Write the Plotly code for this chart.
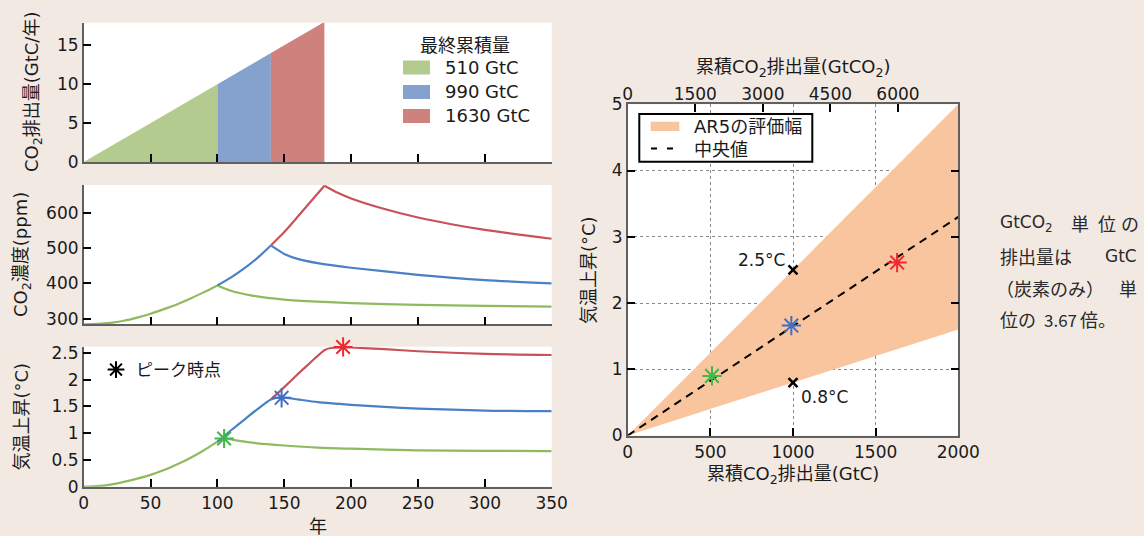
import plotly.graph_objects as go

W, H = 1144, 536
FONT = "DejaVu Sans, Noto Sans CJK JP"
JFONT = "Noto Sans CJK JP"

# ---------------- data ----------------
scen_names = ["510 GtC", "990 GtC", "1630 GtC"]
emis_start_year = [0, 100, 140]
emis_end_year = [100, 140, 180]
emis_rate_start = [0, 10, 14]
emis_rate_end = [10, 14, 18]

co2_green_years = [0, 10, 20, 30, 40, 50, 60, 70, 80, 90, 100, 110, 125, 150, 175, 200, 250, 300, 350]
co2_green = [284, 285, 288, 294, 303, 314, 327, 341, 357, 375, 394, 379, 366, 354, 348, 344, 339, 336, 334]
co2_blue_years = [100, 110, 120, 130, 140, 150, 160, 175, 200, 250, 300, 350]
co2_blue = [394, 416, 442, 472, 507, 483, 469, 457, 444, 424, 409, 400]
co2_red_years = [140, 150, 160, 170, 180, 190, 200, 225, 250, 275, 300, 350]
co2_red = [507, 545, 588, 632, 676, 656, 640, 610, 586, 567, 551, 526]

temp_green_years = [0, 10, 20, 30, 40, 50, 60, 70, 80, 90, 100, 105, 115, 130, 150, 175, 200, 250, 300, 350]
temp_green = [0, 0.01, 0.04, 0.09, 0.15, 0.22, 0.31, 0.42, 0.54, 0.68, 0.84, 0.9, 0.86, 0.81, 0.77, 0.73, 0.71, 0.68, 0.67, 0.665]
temp_blue_years = [100, 110, 120, 130, 140, 148, 160, 175, 200, 225, 250, 300, 350]
temp_blue = [0.84, 1.05, 1.25, 1.45, 1.63, 1.67, 1.63, 1.58, 1.53, 1.49, 1.46, 1.42, 1.41]
temp_red_years = [140, 150, 160, 170, 180, 185, 194, 200, 225, 250, 300, 350]
temp_red = [1.63, 1.86, 2.1, 2.33, 2.55, 2.59, 2.6, 2.6, 2.57, 2.53, 2.48, 2.46]

peak_years = [105, 148, 194]
peak_temps = [0.9, 1.66, 2.61]
cum_emis = [510, 990, 1630]

ar5_x = [0, 2000]
ar5_low = [0, 1.6]
ar5_high = [0, 5.0]
ar5_median = [0, 3.3]
ref_x = [1000, 1000]
ref_temp = [2.5, 0.8]
ref_labels = ["2.5°C", "0.8°C"]

gtco2_ticks = [0, 1500, 3000, 4500, 6000]
co2_per_c = 3.67

fill_colors = ["#b4cb8f", "#84a2cd", "#cf827d"]
line_colors = ["#8fbb5e", "#4a80c4", "#c8525a"]
peak_colors = ["#3dba4a", "#3f6fc8", "#ec2a2f"]
band_color = "#f9c59e"
BG = "#f2e9e3"


def px(x):
    return x / W


def py(y):
    return 1 - y / H


fig = go.Figure()

# ---- panel 1: emissions ----
for i in range(3):
    s, e = emis_start_year[i], emis_end_year[i]
    fig.add_trace(go.Scatter(
        x=[s, e, e, s], y=[emis_rate_start[i], emis_rate_end[i], 0, 0],
        fill="toself", fillcolor=fill_colors[i], mode="lines",
        line=dict(width=0, color=fill_colors[i]), xaxis="x", yaxis="y",
        showlegend=False, hoverinfo="skip"))

# ---- panel 2: CO2 concentration ----
co2_sets = [(co2_green_years, co2_green), (co2_blue_years, co2_blue), (co2_red_years, co2_red)]
for i, (yrs, vals) in enumerate(co2_sets):
    k = yrs.index(emis_end_year[i])
    for seg in (slice(0, k + 1), slice(k, None)):
        fig.add_trace(go.Scatter(
            x=yrs[seg], y=vals[seg], mode="lines",
            line=dict(color=line_colors[i], width=2.2, shape="spline", smoothing=0.6),
            xaxis="x2", yaxis="y2", showlegend=False, hoverinfo="skip"))

# ---- panel 3: temperature ----
temp_sets = [(temp_green_years, temp_green), (temp_blue_years, temp_blue), (temp_red_years, temp_red)]
for i, (yrs, vals) in enumerate(temp_sets):
    fig.add_trace(go.Scatter(
        x=yrs, y=vals, mode="lines",
        line=dict(color=line_colors[i], width=2.2, shape="spline", smoothing=0.6),
        xaxis="x3", yaxis="y3", showlegend=False, hoverinfo="skip"))
for i in range(3):
    fig.add_trace(go.Scatter(
        x=[peak_years[i]], y=[peak_temps[i]], mode="markers", cliponaxis=False,
        marker=dict(symbol="asterisk-open", size=16, color=peak_colors[i],
                    line=dict(color=peak_colors[i], width=2)),
        xaxis="x3", yaxis="y3", showlegend=False, hoverinfo="skip"))
fig.add_trace(go.Scatter(
    x=[None], y=[None], mode="markers", name="ピーク時点",
    marker=dict(symbol="asterisk-open", size=14, color="black", line=dict(color="black", width=2)),
    xaxis="x3", yaxis="y3", showlegend=True, legend="legend2"))

# ---- right panel ----
fig.add_trace(go.Scatter(x=ar5_x, y=ar5_low, mode="lines", line=dict(width=0),
                         xaxis="x4", yaxis="y4", showlegend=False, hoverinfo="skip"))
fig.add_trace(go.Scatter(x=ar5_x, y=ar5_high, mode="lines", line=dict(width=0),
                         fill="tonexty", fillcolor=band_color,
                         xaxis="x4", yaxis="y4", showlegend=False, hoverinfo="skip"))
fig.add_trace(go.Scatter(x=ar5_x, y=ar5_median, mode="lines",
                         line=dict(color="black", width=2, dash="8px,6px"),
                         xaxis="x4", yaxis="y4", showlegend=False, hoverinfo="skip"))
fig.add_trace(go.Scatter(x=ref_x, y=ref_temp, mode="markers",
                         marker=dict(symbol="x-thin-open", size=9, color="black",
                                     line=dict(color="black", width=2.5)),
                         xaxis="x4", yaxis="y4", showlegend=False, hoverinfo="skip"))
for i in range(3):
    fig.add_trace(go.Scatter(
        x=[cum_emis[i]], y=[peak_temps[i]], mode="markers",
        marker=dict(symbol="asterisk-open", size=16, color=peak_colors[i],
                    line=dict(color=peak_colors[i], width=2)),
        xaxis="x4", yaxis="y4", showlegend=False, hoverinfo="skip"))
# invisible trace for top axis
fig.add_trace(go.Scatter(x=[0, 2000 * co2_per_c], y=[None, None], mode="lines",
                         xaxis="x5", yaxis="y4", showlegend=False, hoverinfo="skip"))

# ---- axes ----
tickfont = dict(family=FONT, size=17, color="#1a1a1a")
AXC = "#606060"
LEFT_X = [px(83.7), px(551.7)]
RIGHT_X = [px(627.7), px(958.3)]
common = dict(showline=True, linecolor=AXC, linewidth=1.5, ticks="inside", ticklen=8,
              tickwidth=2, tickcolor="black", showgrid=False, zeroline=False,
              tickfont=tickfont, fixedrange=True, automargin=False)
grid = dict(showgrid=True, gridcolor="#8a8a8a", griddash="dot", gridwidth=1)

fig.update_layout(
    xaxis=dict(domain=LEFT_X, range=[0, 350], dtick=50, showticklabels=False, anchor="y", **common),
    yaxis=dict(domain=[py(162), py(22.7)], range=[0, 17.9], tickvals=[0, 5, 10, 15], anchor="x", **common),
    xaxis2=dict(domain=LEFT_X, range=[0, 350], dtick=50, showticklabels=False, anchor="y2", **common),
    yaxis2=dict(domain=[py(324.3), py(185)], range=[284, 678], tickvals=[300, 400, 500, 600], anchor="x2", **common),
    xaxis3=dict(domain=LEFT_X, range=[0, 350], dtick=50, anchor="y3", **common),
    yaxis3=dict(domain=[py(486.7), py(346.7)], range=[0, 2.615], tickvals=[0, 0.5, 1, 1.5, 2, 2.5], anchor="x3", **common),
    xaxis4=dict(domain=RIGHT_X, range=[0, 2000], tickvals=[0, 500, 1000, 1500, 2000], anchor="y4",
                mirror=True, **{**common, **grid}),
    yaxis4=dict(domain=[py(435.5), py(104.3)], range=[0, 5], tickvals=[0, 1, 2, 3, 4, 5], anchor="x4",
                mirror="ticks", **{**common, **grid}),
    xaxis5=dict(domain=RIGHT_X, range=[0, 2000 * co2_per_c], tickvals=gtco2_ticks, overlaying="x4",
                side="top", anchor="y4", **{**common, "showline": False}),
)

# ---- annotations ----
ann = []


def text(x, y, s, size=18, xanchor="center", yanchor="middle", angle=0, family=FONT, color="#1a1a1a"):
    ann.append(dict(x=px(x), y=py(y), xref="paper", yref="paper", text=s, showarrow=False,
                    xanchor=xanchor, yanchor=yanchor, textangle=angle,
                    font=dict(family=family, size=size, color=color)))


text(33, 92, "CO<sub>2</sub>排出量(GtC/年)", angle=-90)
text(22, 255, "CO<sub>2</sub>濃度(ppm)", angle=-90)
text(20.5, 417, "気温上昇(°C)", angle=-90)
text(318, 526, "年")
text(793, 475, "累積CO<sub>2</sub>排出量(GtC)")
text(793, 68, "累積CO<sub>2</sub>排出量(GtCO<sub>2</sub>)")
text(588, 270, "気温上昇(°C)", angle=-90)

# panel-1 legend
text(465, 45, "最終累積量")
leg_y = [67.5, 92, 116]
shapes = []
for i in range(3):
    shapes.append(dict(type="rect", xref="paper", yref="paper", x0=px(403), x1=px(430),
                       y0=py(leg_y[i] + 7), y1=py(leg_y[i] - 7), fillcolor=fill_colors[i],
                       line=dict(width=0), layer="above"))
    text(443, leg_y[i], scen_names[i], xanchor="left")

# right legend box
shapes.append(dict(type="rect", xref="paper", yref="paper", x0=px(639.3), x1=px(812.3),
                   y0=py(161.7), y1=py(114), fillcolor="white", line=dict(color="black", width=2),
                   layer="above"))
shapes.append(dict(type="rect", xref="paper", yref="paper", x0=px(650.7), x1=px(679.3),
                   y0=py(131), y1=py(121.7), fillcolor=band_color, line=dict(width=0), layer="above"))
shapes.append(dict(type="line", xref="paper", yref="paper", x0=px(651), x1=px(676),
                   y0=py(148.5), y1=py(148.5), line=dict(color="black", width=2, dash="6px,10px"),
                   layer="above"))
text(691.7, 126.5, "AR5の評価幅", xanchor="left")
text(691.7, 149.5, "中央値", xanchor="left")

# 2.5 / 0.8 labels at reference points
ann.append(dict(x=ref_x[0], y=ref_temp[0], xref="x4", yref="y4", text=ref_labels[0], showarrow=False,
                xanchor="right", yanchor="middle", xshift=-6, yshift=10,
                font=dict(family=FONT, size=17, color="#1a1a1a")))
ann.append(dict(x=ref_x[1], y=ref_temp[1], xref="x4", yref="y4", text=ref_labels[1], showarrow=False,
                xanchor="left", yanchor="middle", xshift=6, yshift=-14,
                font=dict(family=FONT, size=17, color="#1a1a1a")))

# side note
NC = "#2a2a2a"
text(998, 223, "GtCO<sub>2</sub>", size=17, xanchor="left", family=FONT, color=NC)
for cx, ch in zip([1080, 1107, 1130], ["単", "位", "の"]):
    text(cx, 223, ch, size=18, family=JFONT, color=NC)
text(998, 256, "排出量は", size=18, xanchor="left", family=JFONT, color=NC)
text(1139, 256, "GtC", size=17, xanchor="right", family=FONT, color=NC)
text(994, 288, "（炭素のみ）", size=18, xanchor="left", family=JFONT, color=NC)
text(1139, 288, "単", size=18, xanchor="right", family=JFONT, color=NC)
text(998, 319, "位の", size=18, xanchor="left", family=JFONT, color=NC)
text(1042, 319, "3.67", size=17, xanchor="left", family=JFONT, color=NC)
text(1078, 319, "倍。", size=18, xanchor="left", family=JFONT, color=NC)

fig.update_layout(
    width=W, height=H, margin=dict(l=0, r=0, t=0, b=0, pad=0, autoexpand=False),
    paper_bgcolor=BG, plot_bgcolor="white",
    annotations=ann, shapes=shapes,
    showlegend=True,
    legend2=dict(x=px(96), y=py(370), xanchor="left", yanchor="middle", bgcolor="rgba(0,0,0,0)",
                 borderwidth=0, font=dict(family=FONT, size=17, color="#1a1a1a")),
    font=dict(family=FONT),
)

fig.write_html("out.html", config={"displayModeBar": False},
               post_script="document.body.style.margin='0';document.body.style.overflow='hidden';")
